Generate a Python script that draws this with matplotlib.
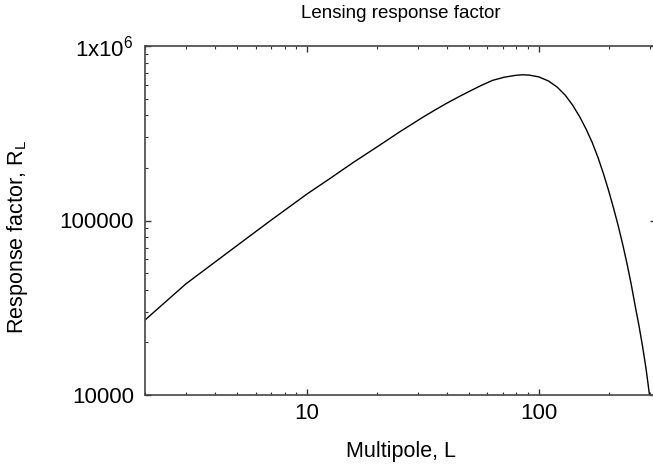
import numpy as np
import matplotlib
matplotlib.use('Agg')
import matplotlib.pyplot as plt
from matplotlib.ticker import FixedLocator, FixedFormatter, LogLocator, NullFormatter

plt.rcParams['font.family'] = ['Liberation Sans', 'DejaVu Sans']
plt.rcParams['mathtext.fontset'] = 'custom'
plt.rcParams['mathtext.rm'] = 'Liberation Sans'
plt.rcParams['mathtext.it'] = 'Liberation Sans'

# values
multipole = [2, 3, 5, 7, 10, 12.6, 15.8, 20, 25.1, 31.6, 35.5, 39.8, 44.7, 50.1,
             56.2, 63.1, 70.8, 79.4, 85, 91, 100, 110, 120, 130, 140, 150, 160,
             170, 180, 190, 200, 210, 220, 230, 240, 250, 260, 270, 280, 290, 300]
response = [26900, 43300, 72000, 100500, 141900, 174600, 214800, 263600, 322100,
            390800, 428500, 467700, 508200, 549500, 592900, 635300, 662200, 679000,
            684000, 681000, 665000, 630000, 581000, 522000, 457000, 393000, 333000,
            279000, 229000, 185000, 148000, 117500, 93000, 72800, 56500, 43300,
            32600, 25100, 19000, 14100, 10000]

y_ticks = [1e4, 1e5, 1e6]
y_labels = ['10000', '100000', r'1x10$^{6}$']
x_ticks = [10, 100]
x_labels = ['10', '100']

fig = plt.figure(figsize=(6.53, 4.72), dpi=100)
ax = fig.add_axes([145/653, 77/472, 511/653, 349/472])

ax.plot(multipole, response, color='black', lw=1.0)
ax.set_xscale('log')
ax.set_yscale('log')
ax.set_xlim(2, 320)
ax.set_ylim(1e4, 1e6)

ax.xaxis.set_major_locator(FixedLocator(x_ticks))
ax.xaxis.set_major_formatter(FixedFormatter(x_labels))
ax.xaxis.set_minor_locator(LogLocator(base=10, subs=np.arange(2, 10)))
ax.xaxis.set_minor_formatter(NullFormatter())
ax.yaxis.set_major_locator(FixedLocator(y_ticks))
ax.yaxis.set_major_formatter(FixedFormatter(y_labels))
ax.yaxis.set_minor_locator(LogLocator(base=10, subs=np.arange(2, 10)))
ax.yaxis.set_minor_formatter(NullFormatter())

for s in ax.spines.values():
    s.set_color('#444444')
    s.set_linewidth(1.2)

ax.tick_params(which='both', direction='in', top=True, right=True,
               color='#333333', labelsize=16)
ax.tick_params(axis='x', pad=6)
ax.tick_params(axis='y', pad=8)
ax.tick_params(which='major', length=4.2, width=1.0)
ax.tick_params(which='minor', length=2.2, width=0.8)

ax.set_title('Lensing response factor', fontsize=13.5, pad=20)
ax.set_xlabel('Multipole, L', fontsize=15.5, labelpad=12)
ax.set_ylabel(r'Response factor, R$_\mathrm{L}$', fontsize=15.5)
ax.yaxis.set_label_coords(-0.225, 0.453)

fig.savefig('out.png', dpi=100)
